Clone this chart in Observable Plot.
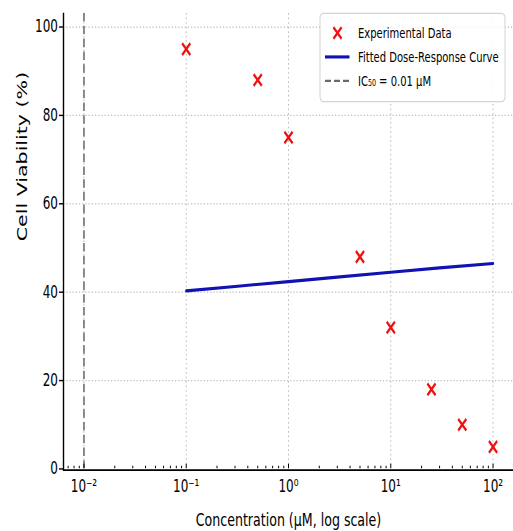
<!DOCTYPE html>
<html>
<head>
<meta charset="utf-8">
<script src="https://cdn.jsdelivr.net/npm/d3@7"></script>
<script src="https://cdn.jsdelivr.net/npm/@observablehq/plot@0.6"></script>
<style>
  html, body { margin: 0; padding: 0; background: white; }
  svg { display: block; }
</style>
</head>
<body>
<div id="chart"></div>
<script>
// ---- data ----
const concentrations = [0.1, 0.5, 1, 5, 10, 25, 50, 100];
const viability = [95, 88, 75, 48, 32, 18, 10, 5];
const fitConcentrations = [0.1, 0.3, 1, 3, 10, 30, 100];
const fitViability = [40.3, 41.3, 42.4, 43.4, 44.5, 45.5, 46.5];
const ic50 = [0.01];
const yTicks = [0, 20, 40, 60, 80, 100];
const xTicks = [0.01, 0.1, 1, 10, 100];
const xTickLabels = ["10\u207B\u00B2", "10\u207B\u00B9", "10\u2070", "10\u00B9", "10\u00B2"];
const legendLabels = ["Experimental Data", "Fitted Dose-Response Curve", "IC\u2085\u2080 = 0.01 \u03BCM"];
const xLabel = "Concentration (\u03BCM, log scale)";
const yLabel = "Cell Viability (%)";

// ---- layout (drawn in an unstretched space, then stretched vertically) ----
const W = 513, H = 531, H0 = 374;
const mt = 9.2, mb = 44.2, ml = 63, mr = 0;
const frameH = H0 - mt - mb;
const minorTicks = [];
for (const d of [0.001, 0.01, 0.1, 1, 10, 100]) for (let k = 2; k <= 9; k++) minorTicks.push(d * k);

const points = concentrations.map((c, i) => ({c, v: viability[i]}));
const fit = fitConcentrations.map((c, i) => ({c, v: fitViability[i]}));

const gridStyle = {stroke: "#b8b8b8", strokeOpacity: 1, strokeWidth: 0.9, strokeDasharray: "1.2,2"};

const chart = Plot.plot({
  width: W, height: H0,
  marginTop: mt, marginBottom: mb, marginLeft: ml, marginRight: mr,
  style: {fontFamily: "DejaVu Sans", background: "white", color: "black", overflow: "visible"},
  x: {type: "log", domain: [10 ** -2.2, 10 ** 2.2]},
  y: {domain: [0, 103]},
  marks: [
    Plot.gridX(xTicks, gridStyle),
    Plot.gridY(yTicks.slice(1), gridStyle),
    Plot.ruleX(ic50, {stroke: "#6a6a6a", strokeWidth: 1.5, strokeDasharray: "6,3"}),
    Plot.line(fit, {x: "c", y: "v", stroke: "#1212b4", strokeWidth: 2.2}),
    Plot.dot(points, {x: "c", y: "v", symbol: "times", r: 3.8, stroke: "#ee1111", strokeWidth: 2}),
    // inward x ticks
    Plot.ruleX(minorTicks.filter(d => d > 10 ** -2.2 && d < 10 ** 2.2), {stroke: "black", strokeWidth: 1, insetTop: frameH - 1.8}),
    Plot.ruleX(xTicks, {stroke: "black", strokeWidth: 1, insetTop: frameH - 3.2}),
    // spines
    Plot.frame({anchor: "left", stroke: "black", strokeWidth: 1.4}),
    Plot.frame({anchor: "bottom", stroke: "black", strokeWidth: 1.3, dy: 0.8}),
    // axes
    Plot.axisY({ticks: yTicks, tickSize: 4, tickPadding: 1.5, fontSize: 12, label: null, tickFormat: d => String(d)}),
    Plot.axisX({ticks: xTicks, tickSize: 0, tickPadding: 8, fontSize: 12, label: null, tickFormat: (d, i) => xTickLabels[xTicks.indexOf(d)]}),
    // axis titles
    Plot.text([xLabel], {frameAnchor: "bottom", text: d => d, dy: 36.3, fontSize: 12.6, lineAnchor: "middle"}),
    Plot.text([yLabel], {frameAnchor: "left", text: d => d, dx: -41, rotate: -90, fontSize: 14.5, lineAnchor: "middle"})
  ]
});

// ---- legend ----
const svg = d3.select(chart);
const lg = svg.append("g").attr("font-family", "DejaVu Sans").attr("font-size", 10).attr("text-anchor", "start");
lg.append("rect").attr("x", 320).attr("y", 9.4).attr("width", 185).attr("height", 62.2)
  .attr("rx", 3.5).attr("fill", "white").attr("fill-opacity", 0.85)
  .attr("stroke", "#d4d4d4").attr("stroke-width", 1);
const rows = [23.2, 40.1, 57.0];
lg.append("path").attr("d", d3.symbol(d3.symbolTimes, 3.8 * 3.8 * Math.PI)())
  .attr("transform", `translate(337.5,${rows[0]})`).attr("stroke", "#ee1111").attr("stroke-width", 2).attr("fill", "none");
lg.append("line").attr("x1", 325).attr("x2", 349.5).attr("y1", rows[1]).attr("y2", rows[1])
  .attr("stroke", "#1212b4").attr("stroke-width", 2.2);
lg.append("line").attr("x1", 325).attr("x2", 349.5).attr("y1", rows[2]).attr("y2", rows[2])
  .attr("stroke", "#6a6a6a").attr("stroke-width", 1.5).attr("stroke-dasharray", "6,3");
legendLabels.forEach((t, i) => {
  lg.append("text").attr("x", 358).attr("y", rows[i]).attr("dy", "0.35em")
    .attr("text-anchor", "start").attr("fill", "black").text(t);
});

// stretch vertically to the final picture size
svg.attr("width", W).attr("height", H)
   .attr("viewBox", `0 0 ${W} ${H0}`)
   .attr("preserveAspectRatio", "none")
   .style("width", W + "px").style("height", H + "px").style("max-width", "none");

document.getElementById("chart").appendChild(chart);
</script>
</body>
</html>
